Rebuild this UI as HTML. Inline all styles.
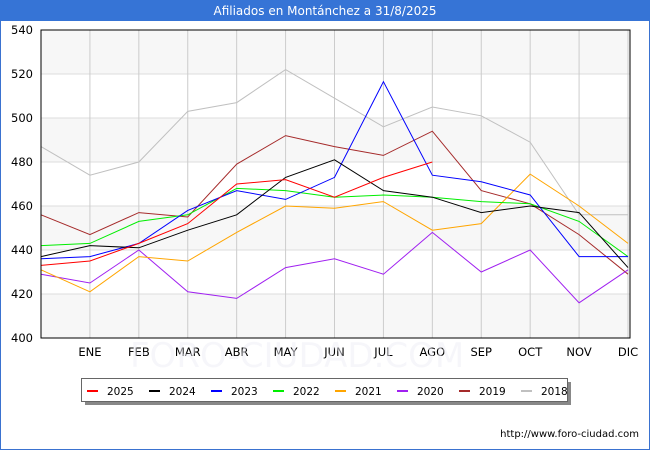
<!DOCTYPE html>
<html><head><meta charset="utf-8"><style>
body{margin:0;width:650px;height:450px;overflow:hidden;background:#fff;font-family:"DejaVu Sans","Liberation Sans",sans-serif}
</style></head><body>
<svg width="650" height="450" xmlns="http://www.w3.org/2000/svg" id="svg" font-family="DejaVu Sans, Liberation Sans, sans-serif">
<rect x="0.5" y="0.5" width="649" height="449" fill="#fff" stroke="#3a72d0"/>
<rect x="0" y="0" width="650" height="21" fill="#3674d6"/>
<text x="325" y="15" text-anchor="middle" fill="#fff" font-size="12">Afiliados en Montánchez a 31/8/2025</text>
<g id="plot"></g>
<text x="130" y="367" fill="#eeeef6" font-size="34" opacity="0.5">FORO-CIUDAD.COM</text>
<g id="legend"></g>
<text x="639" y="437" text-anchor="end" font-size="10" fill="#000">http://www.foro-ciudad.com</text>
</svg>
<script>
const months=["","ENE","FEB","MAR","ABR","MAY","JUN","JUL","AGO","SEP","OCT","NOV","DIC"];
const yTicks=[400,420,440,460,480,500,520,540];
const years=["2025","2024","2023","2022","2021","2020","2019","2018"];
const colors=["#ff0000","#000000","#0000ff","#00ee00","#ffa500","#a020f0","#a52a2a","#c0c0c0"];
const s2025=[433,435,443,452,470,472,464,473,480];
const s2024=[437,442,441,449,456,473,481,467,464,457,460,457,432];
const s2023=[436,437,443,458,467,463,473,516.5,474,471,465,437,437];
const s2022=[442,443,453,456,468,467,464,465,464,462,461,453,437];
const s2021=[431,421,437,435,448,460,459,462,449,452,474.5,460,443];
const s2020=[429,425,440,421,418,432,436,429,448,430,440,416,431];
const s2019=[456,447,457,455,479,492,487,483,494,467,461,447,429];
const s2018=[487,474,480,503,507,522,509,496,505,501,489,456,456];
const series=[s2025,s2024,s2023,s2022,s2021,s2020,s2019,s2018];
const L=41,R=630,T=30,B=338;
const xs=i=>L+i*(R-L-2)/12;
const ys=v=>B-(v-400)*(B-T)/140;
const NS="http://www.w3.org/2000/svg";
const plot=document.getElementById('plot');
function mk(tag,attrs,parent){const e=document.createElementNS(NS,tag);for(const k in attrs)e.setAttribute(k,attrs[k]);parent.appendChild(e);return e;}
for(let i=0;i<yTicks.length-1;i++){
  const g=(yTicks.length-2-i)%2===0;
  const r=mk('rect',{x:L,y:ys(yTicks[i+1]),width:R-L,height:ys(yTicks[i])-ys(yTicks[i+1]),fill:g?'#f7f7f7':'#ffffff'},plot);
  
  
}
yTicks.forEach(v=>{
  const l=mk('line',{x1:L,x2:R,y1:ys(v),y2:ys(v),stroke:'#dddddd'},plot);
  
  
  const t=mk('text',{x:L-8,y:ys(v)+4,'text-anchor':'end','font-size':'11.5',fill:'#000'},plot);
  t.textContent=v;
  
  
});
months.forEach((m,i)=>{
  if(i===0)return;
  const l=mk('line',{x1:xs(i),x2:xs(i),y1:T,y2:B,stroke:'#cccccc'},plot);
  
  
  const t=mk('text',{x:xs(i),y:B+18,'text-anchor':'middle','font-size':'11.5',fill:'#000'},plot);
  t.textContent=m;
  
  
});
for(let k=series.length-1;k>=0;k--){
  const p=mk('polyline',{points:series[k].map((v,i)=>xs(i)+','+ys(v)).join(' '),fill:'none',stroke:colors[k],'stroke-width':'1'},plot);
  
  
}
const fr=mk('rect',{x:L,y:T,width:R-L,height:B-T,fill:'none',stroke:'#000'},plot);


const lg=document.getElementById('legend');
const sh=mk('rect',{x:85,y:382,width:486,height:23,fill:'#888'},lg);


const box=mk('rect',{x:81.5,y:378.5,width:486,height:23,fill:'#fff',stroke:'#666'},lg);


years.forEach((y,k)=>{
  const x0=87+k*62;
  const l=mk('line',{x1:x0,x2:x0+11,y1:391,y2:391,stroke:colors[k],'stroke-width':'2'},lg);
  
  
  const t=mk('text',{x:x0+20,y:395,'font-size':'10.5',fill:'#000'},lg);
  t.textContent=y;
  
  
});
</script>
</body></html>
